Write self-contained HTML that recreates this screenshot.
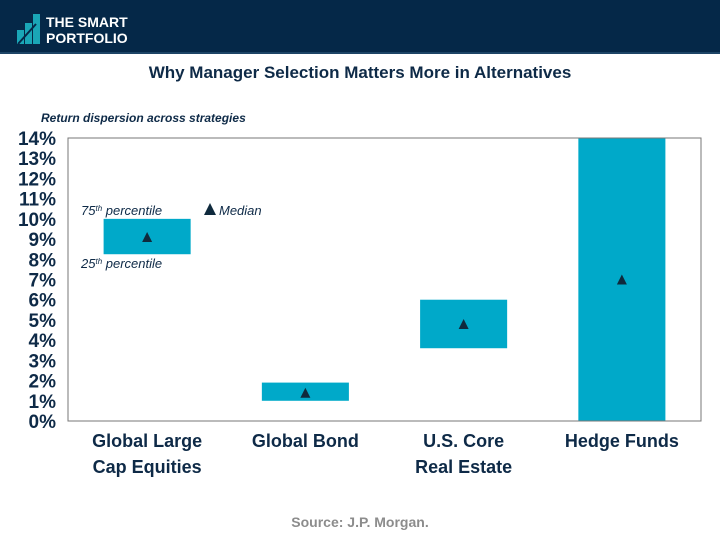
<!DOCTYPE html>
<html><head><meta charset="utf-8">
<style>
body{margin:0;width:720px;height:540px;background:#fff;overflow:hidden;font-family:"Liberation Sans",Arial,sans-serif;}
#hdr{position:absolute;left:0;top:0;width:720px;height:52px;background:#052848;border-bottom:2px solid #1d4466;}
</style></head><body>
<div id="hdr">
<svg width="200" height="52">
<rect x="17" y="30" width="7" height="14" fill="#1aa6b7"/>
<rect x="25" y="23" width="7" height="21" fill="#1aa6b7"/>
<rect x="33" y="14" width="7" height="30" fill="#1aa6b7"/>
<path d="M18 44 L36 24" stroke="#052848" stroke-width="2"/>
<text x="46" y="27" fill="#fff" font-size="14" font-weight="bold" font-family="Liberation Sans, sans-serif">THE SMART</text>
<text x="46" y="43" fill="#fff" font-size="14" font-weight="bold" font-family="Liberation Sans, sans-serif">PORTFOLIO</text>
</svg>
</div>
<svg id="chart" width="720" height="540" style="position:absolute;left:0;top:0"></svg>
<script>
const categories=[["Global Large","Cap Equities"],["Global Bond"],["U.S. Core","Real Estate"],["Hedge Funds"]];
const p25=[8.25,1.0,3.6,0];
const p75=[10.0,1.9,6.0,14];
const medians=[9.1,1.4,4.8,7.0];
const yTicks=[0,1,2,3,4,5,6,7,8,9,10,11,12,13,14];
const NS="http://www.w3.org/2000/svg";
const svg=document.getElementById('chart');
const L=68,R=701,T=138,B=421,yMax=14;
const y=v=>B-(v/yMax)*(B-T);
const band=(R-L)/categories.length;
const xc=i=>L+band*(i+0.5);
function mk(tag,attrs,parent){const e=document.createElementNS(NS,tag);for(const k in attrs)e.setAttribute(k,attrs[k]);(parent||svg).appendChild(e);return e;}
const navy="#0e2a47";
let t=mk('text',{x:360,y:78,'text-anchor':'middle','font-size':17,'font-weight':'bold',fill:navy});
t.textContent="Why Manager Selection Matters More in Alternatives";


t=mk('text',{x:41,y:122,'font-size':12,'font-weight':'bold','font-style':'italic',fill:navy});
t.textContent="Return dispersion across strategies";


yTicks.forEach(v=>{const e=mk('text',{x:56,y:y(v)+7,'text-anchor':'end','font-size':19,'font-weight':'bold',fill:navy});e.textContent=v+"%";

});
const bw=band*0.55;
categories.forEach((c,i)=>{
const r=mk('rect',{x:xc(i)-bw/2,y:y(p75[i]),width:bw,height:y(p25[i])-y(p75[i]),fill:"#00a9c9"});


const my=y(medians[i]),cx=xc(i);
const m=mk('path',{d:`M${cx-5} ${my+5} L${cx+5} ${my+5} L${cx} ${my-5} Z`,fill:"#0f2a3d"});


c.forEach((ln,j)=>{const e=mk('text',{x:cx,y:447+j*26,'text-anchor':'middle','font-size':18,'font-weight':'bold',fill:navy});e.textContent=ln;

});
});
const fr=mk('rect',{x:L,y:T,width:R-L,height:B-T,fill:'none',stroke:'#777','stroke-width':1});


const g=mk('g',{'font-size':13,'font-style':'italic',fill:navy});


g.innerHTML='<text x="81" y="215">75<tspan font-size="8" dy="-4">th</tspan><tspan dy="4"> percentile</tspan></text><text x="81" y="268">25<tspan font-size="8" dy="-4">th</tspan><tspan dy="4"> percentile</tspan></text><path d="M204 215 L216 215 L210 203 Z" fill="#0f2a3d"/><text x="219" y="215">Median</text>';
t=mk('text',{x:360,y:527,'text-anchor':'middle','font-size':14,'font-weight':'bold',fill:'#8c8c8c'});
t.textContent="Source: J.P. Morgan.";


</script>
</body></html>
